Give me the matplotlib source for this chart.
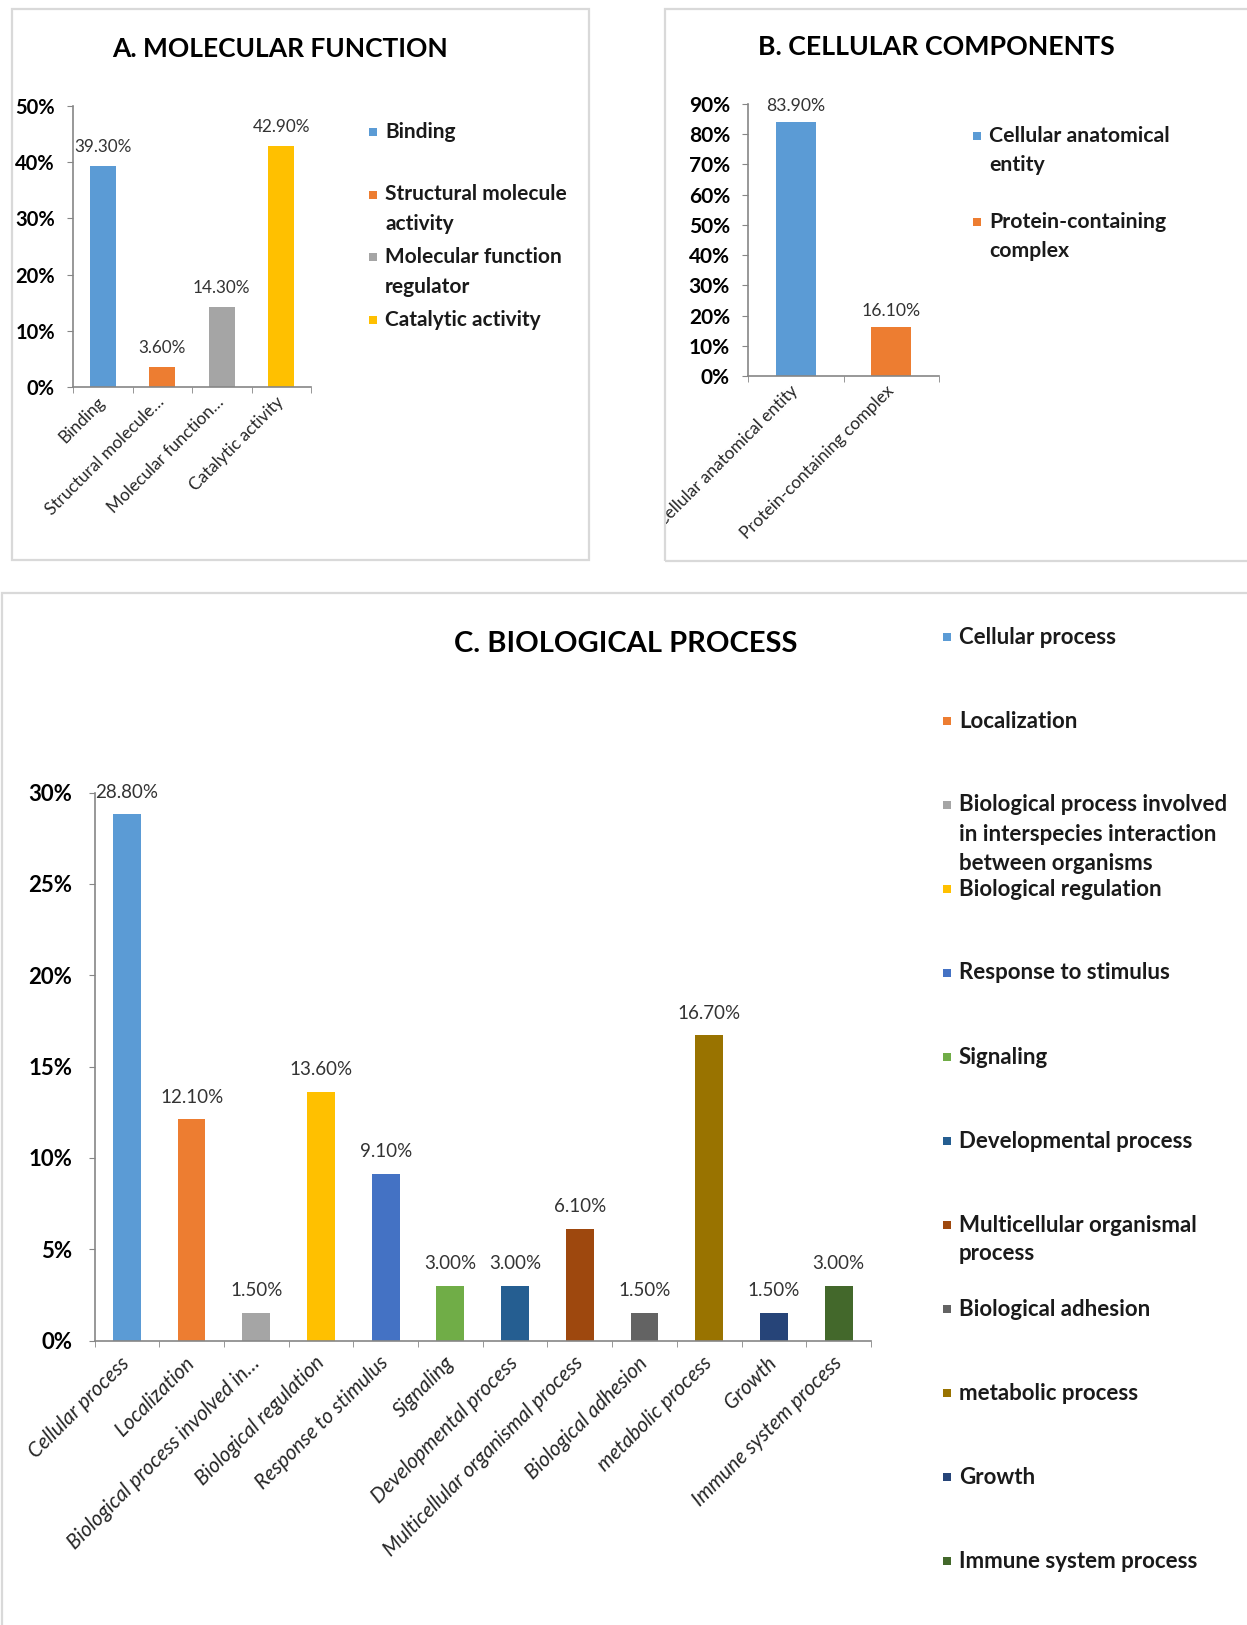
import numpy as np
import matplotlib
matplotlib.use('Agg')
import matplotlib.pyplot as plt
from matplotlib.patches import Rectangle
from matplotlib.ticker import PercentFormatter
from matplotlib.transforms import Bbox

W, H = 1247, 1625
plt.rcParams['font.family'] = ['Lato', 'DejaVu Sans']

# A. molecular function
mf_ticks = ['Binding', 'Structural molecule…', 'Molecular function…', 'Catalytic activity']
mf_names = ['Binding', 'Structural molecule\nactivity', 'Molecular function\nregulator', 'Catalytic activity']
mf_values = [39.3, 3.6, 14.3, 42.9]
mf_colors = ['#5B9BD5', '#ED7D31', '#A5A5A5', '#FFC000']

# B. cellular components
cc_ticks = ['Cellular anatomical entity', 'Protein-containing complex']
cc_names = ['Cellular anatomical\nentity', 'Protein-containing\ncomplex']
cc_values = [83.9, 16.1]
cc_colors = ['#5B9BD5', '#ED7D31']

# C. biological process
bp_ticks = ['Cellular process', 'Localization', 'Biological process involved in…',
            'Biological regulation', 'Response to stimulus', 'Signaling',
            'Developmental process', 'Multicellular organismal process',
            'Biological adhesion', 'metabolic process', 'Growth', 'Immune system process']
bp_names = ['Cellular process', 'Localization',
            'Biological process involved\nin interspecies interaction\nbetween organisms',
            'Biological regulation', 'Response to stimulus', 'Signaling',
            'Developmental process', 'Multicellular organismal\nprocess',
            'Biological adhesion', 'metabolic process', 'Growth', 'Immune system process']
bp_values = [28.8, 12.1, 1.5, 13.6, 9.1, 3.0, 3.0, 6.1, 1.5, 16.7, 1.5, 3.0]
bp_colors = ['#5B9BD5', '#ED7D31', '#A5A5A5', '#FFC000', '#4472C4', '#70AD47',
             '#255E91', '#9E480E', '#636363', '#997300', '#264478', '#43682B']

fig = plt.figure(figsize=(W / 100, H / 100), dpi=100)


def to_fig(left, top, right, bottom):
    return [left / W, 1 - bottom / H, (right - left) / W, (bottom - top) / H]


def frame(left, top, right, bottom):
    x, y, w, h = to_fig(left, top, right, bottom)
    r = Rectangle((x, y), w, h, transform=fig.transFigure, fill=False, ec='#D9D9D9', lw=1.6)
    fig.add_artist(r)
    return r


def legend(names, colors, x, y0, step, gap, size):
    for i, (name, color) in enumerate(zip(names, colors)):
        y = y0 + i * step
        fig.add_artist(Rectangle(((x - 4) / W, 1 - (y + 4) / H), 8 / W, 8 / H,
                                 transform=fig.transFigure, color=color, lw=0))
        for k, line in enumerate(name.split('\n')):
            fig.text((x + 12) / W, 1 - (y + k * gap) / H, line, fontsize=size,
                     fontweight='bold', va='center', color='#1a1a1a')


def bars(ax, ticks, values, colors, ymax, step, width, tsize, lsize, xsize, pad,
         ypad=9, xpad=10, italic=False):
    x = np.arange(len(values))
    b = ax.bar(x, values, width=width, color=colors)
    ax.bar_label(b, labels=[f'{v:.2f}%' for v in values], padding=pad,
                 fontsize=lsize, color='#333333')
    ax.set_xlim(-0.5, len(values) - 0.5)
    ax.set_ylim(0, ymax)
    ax.set_yticks(np.arange(0, ymax + 0.1, step))
    ax.yaxis.set_major_formatter(PercentFormatter(100, decimals=0))
    ax.set_xticks(x)
    ax.set_xticks(np.arange(len(values) + 1) - 0.5, minor=True)
    ax.set_xticklabels(ticks, rotation=45, ha='right', va='center', rotation_mode='anchor',
                       fontsize=xsize, style='italic' if italic else 'normal', color='#262626')
    ax.tick_params(axis='x', which='major', length=0, pad=xpad)
    ax.tick_params(axis='x', which='minor', length=4.5, color='#868686')
    ax.tick_params(axis='y', length=4, color='#868686', labelsize=tsize, pad=ypad)
    for lbl in ax.get_yticklabels():
        lbl.set_fontweight('bold')
    for s in ['top', 'right']:
        ax.spines[s].set_visible(False)
    for s in ['left', 'bottom']:
        ax.spines[s].set_color('#868686')
        ax.spines[s].set_linewidth(1.2)


# panel A
frame(12, 9, 589, 560)
ax_a = fig.add_axes(to_fig(73, 106, 311, 387))
bars(ax_a, mf_ticks, mf_values, mf_colors, 50, 10, 0.43, 14.5, 12.3, 12.4, 8, xpad=9)
fig.text(280 / W, 1 - 49 / H, 'A. MOLECULAR FUNCTION', fontsize=19, fontweight='bold',
         ha='center', va='center')
legend(mf_names, mf_colors, 373, 132, 62.5, 30, 15)

# panel B
frame(665, 9, 1262, 561)
ax_b = fig.add_axes(to_fig(748, 104, 939, 376))
bars(ax_b, cc_ticks, cc_values, cc_colors, 90, 10, 0.42, 15, 12.7, 12.4, 6, xpad=9)
clip = Bbox.from_extents(665, H - 561, W, H - 9)
for lbl in ax_b.get_xticklabels():
    lbl.set_clip_box(clip)
    lbl.set_clip_on(True)
fig.text(936 / W, 1 - 47 / H, 'B. CELLULAR COMPONENTS', fontsize=19.3, fontweight='bold',
         ha='center', va='center')
legend(cc_names, cc_colors, 977, 136, 86, 29, 15.3)

# panel C
frame(2, 593, 1262, 1640)
ax_c = fig.add_axes(to_fig(94.5, 792.5, 871, 1340.5))
bars(ax_c, bp_ticks, bp_values, bp_colors, 30, 5, 0.43, 16, 13.5, 14.8, 10,
     ypad=12, xpad=14, italic=True)
fig.text(626 / W, 1 - 644 / H, 'C. BIOLOGICAL PROCESS', fontsize=21, fontweight='bold',
         ha='center', va='center')
legend(bp_names, bp_colors, 947, 637, 84, 29, 16)

fig.savefig('out.png', dpi=100, facecolor='white')
